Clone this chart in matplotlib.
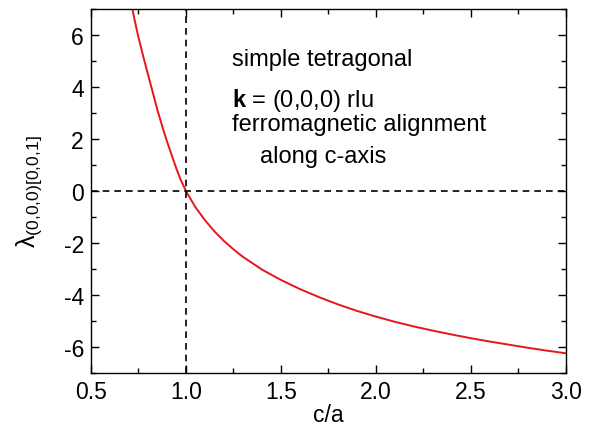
import matplotlib
matplotlib.use("Agg")
import matplotlib.pyplot as plt
from matplotlib.ticker import MultipleLocator, FormatStrFormatter

plt.rcParams.update({
    "font.family": ["Liberation Sans", "DejaVu Sans"],
    "mathtext.fontset": "custom",
    "mathtext.rm": "Liberation Sans",
    "mathtext.it": "Liberation Sans:italic",
    "mathtext.bf": "Liberation Sans:bold",
    "axes.unicode_minus": False,
})

# dipolar eigenvalue vs tetragonal ratio
c_over_a = [0.715, 0.72, 0.73, 0.75, 0.78, 0.80, 0.82, 0.85, 0.88, 0.90,
            0.93, 0.95, 0.97, 1.00, 1.05, 1.10, 1.15, 1.20, 1.25, 1.30,
            1.40, 1.50, 1.60, 1.70, 1.80, 1.90, 2.00, 2.10, 2.20, 2.30,
            2.40, 2.50, 2.60, 2.70, 2.80, 2.90, 3.00]
lam = [7.15, 6.95, 6.58, 5.92, 5.05, 4.50, 3.95, 3.12, 2.38, 1.92,
       1.28, 0.86, 0.48, 0.00, -0.62, -1.12, -1.55, -1.92, -2.24, -2.53,
       -3.02, -3.42, -3.77, -4.08, -4.36, -4.61, -4.83, -5.03, -5.21, -5.37,
       -5.52, -5.66, -5.79, -5.91, -6.03, -6.14, -6.24]

notes = ["simple tetragonal", "ferromagnetic alignment", "along c-axis"]

fs = 16.5
fs_note = 17

fig = plt.figure(figsize=(5.98, 4.39), dpi=100)
ax = fig.add_axes([0.152, 0.148, 0.7945, 0.829])

ax.plot(c_over_a, lam, color="#e8141c", lw=1.4)
ax.axhline(0, color="black", lw=1.2, ls=(0, (4, 3)))
ax.axvline(1.0, color="black", lw=1.2, ls=(0, (4, 3)))

ax.set_xlim(0.5, 3.0)
ax.set_ylim(-7, 7)
ax.xaxis.set_major_locator(MultipleLocator(0.5))
ax.xaxis.set_minor_locator(MultipleLocator(0.25))
ax.yaxis.set_major_locator(MultipleLocator(2))
ax.yaxis.set_minor_locator(MultipleLocator(1))
ax.xaxis.set_major_formatter(FormatStrFormatter("%.1f"))
ax.tick_params(which="both", direction="in", top=True, right=True, labelsize=fs, width=1.0)
ax.tick_params(which="major", length=6, pad=5)
ax.tick_params(which="minor", length=3.5)
for s in ax.spines.values():
    s.set_linewidth(1.0)

ax.set_xlabel("c/a", fontsize=fs, labelpad=0)
ax.set_ylabel(r"λ$_{\mathrm{(0{,}0{,}0)[0{,}0{,}1]}}$", fontsize=18, labelpad=14)

ax.text(1.245, 5.08, notes[0], fontsize=fs_note, va="center", ha="left")
ax.text(1.245, 3.54, r"$\mathbf{k}$ = (0,0,0) rlu", fontsize=fs_note, va="center", ha="left")
ax.text(1.245, 2.58, notes[1], fontsize=fs_note, va="center", ha="left")
ax.text(1.39, 1.35, notes[2], fontsize=fs_note, va="center", ha="left")

fig.savefig("out.png", dpi=100)
